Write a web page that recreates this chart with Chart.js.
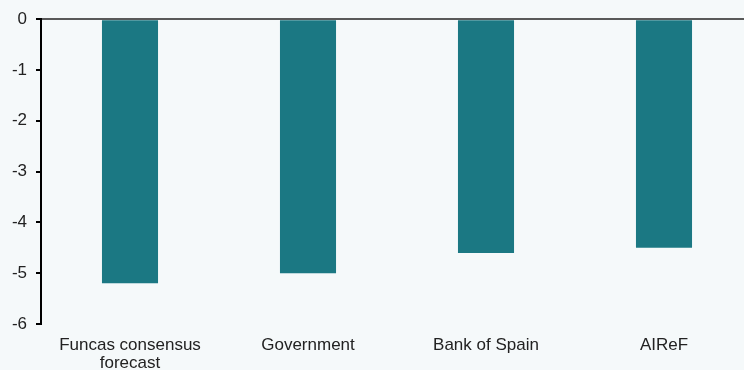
<!DOCTYPE html>
<html>
<head>
<meta charset="utf-8">
<script src="https://cdn.jsdelivr.net/npm/chart.js@4/dist/chart.umd.min.js"></script>
<style>
  html, body { margin: 0; padding: 0; background: #f5f9fa; overflow: hidden; }
  #wrap { width: 744px; height: 370px; overflow: hidden; }
</style>
</head>
<body>
<div id="wrap"><canvas id="myChart" width="753" height="370"></canvas></div>
<script>
// values
const categories = [["Funcas consensus", "forecast"], "Government", "Bank of Spain", "AIReF"];
const forecastValues = [-5.2, -5.0, -4.6, -4.5];
const yTicks = [0, -1, -2, -3, -4, -5, -6];

const ctx = document.getElementById("myChart").getContext("2d");

new Chart(ctx, {
  type: 'bar',
  data: {
    labels: categories,
    datasets: [{
      data: forecastValues,
      backgroundColor: '#1b7883',
      borderWidth: 0,
      barPercentage: 0.315,
      categoryPercentage: 1
    }]
  },
  options: {
    responsive: false,
    animation: false,
    layout: {
      padding: { top: 7, right: 0, bottom: 0, left: 0 }
    },
    plugins: {
      legend: { display: false },
      tooltip: { enabled: false }
    },
    scales: {
      x: {
        afterFit: s => { s.height = 46; },
        grid: { display: false },
        border: { display: false },
        ticks: {
          color: '#222',
          padding: 4,
          maxRotation: 0,
          autoSkip: false,
          font: { family: 'Liberation Sans, Arial, sans-serif', size: 17, lineHeight: 1.06 }
        }
      },
      y: {
        min: -6,
        max: 0,
        afterFit: s => { s.width = 41; },
        afterBuildTicks: s => { s.ticks = yTicks.map(v => ({ value: v })); },
        border: { display: true, color: '#000', width: 2 },
        grid: {
          drawTicks: true,
          tickLength: 5,
          tickColor: '#000',
          lineWidth: 2,
          color: c => (c.tick && c.tick.value === 0) ? '#595959' : 'rgba(0,0,0,0)'
        },
        ticks: {
          color: '#222',
          padding: 9,
          font: { family: 'Liberation Sans, Arial, sans-serif', size: 17 }
        }
      }
    }
  }
});
</script>
</body>
</html>
